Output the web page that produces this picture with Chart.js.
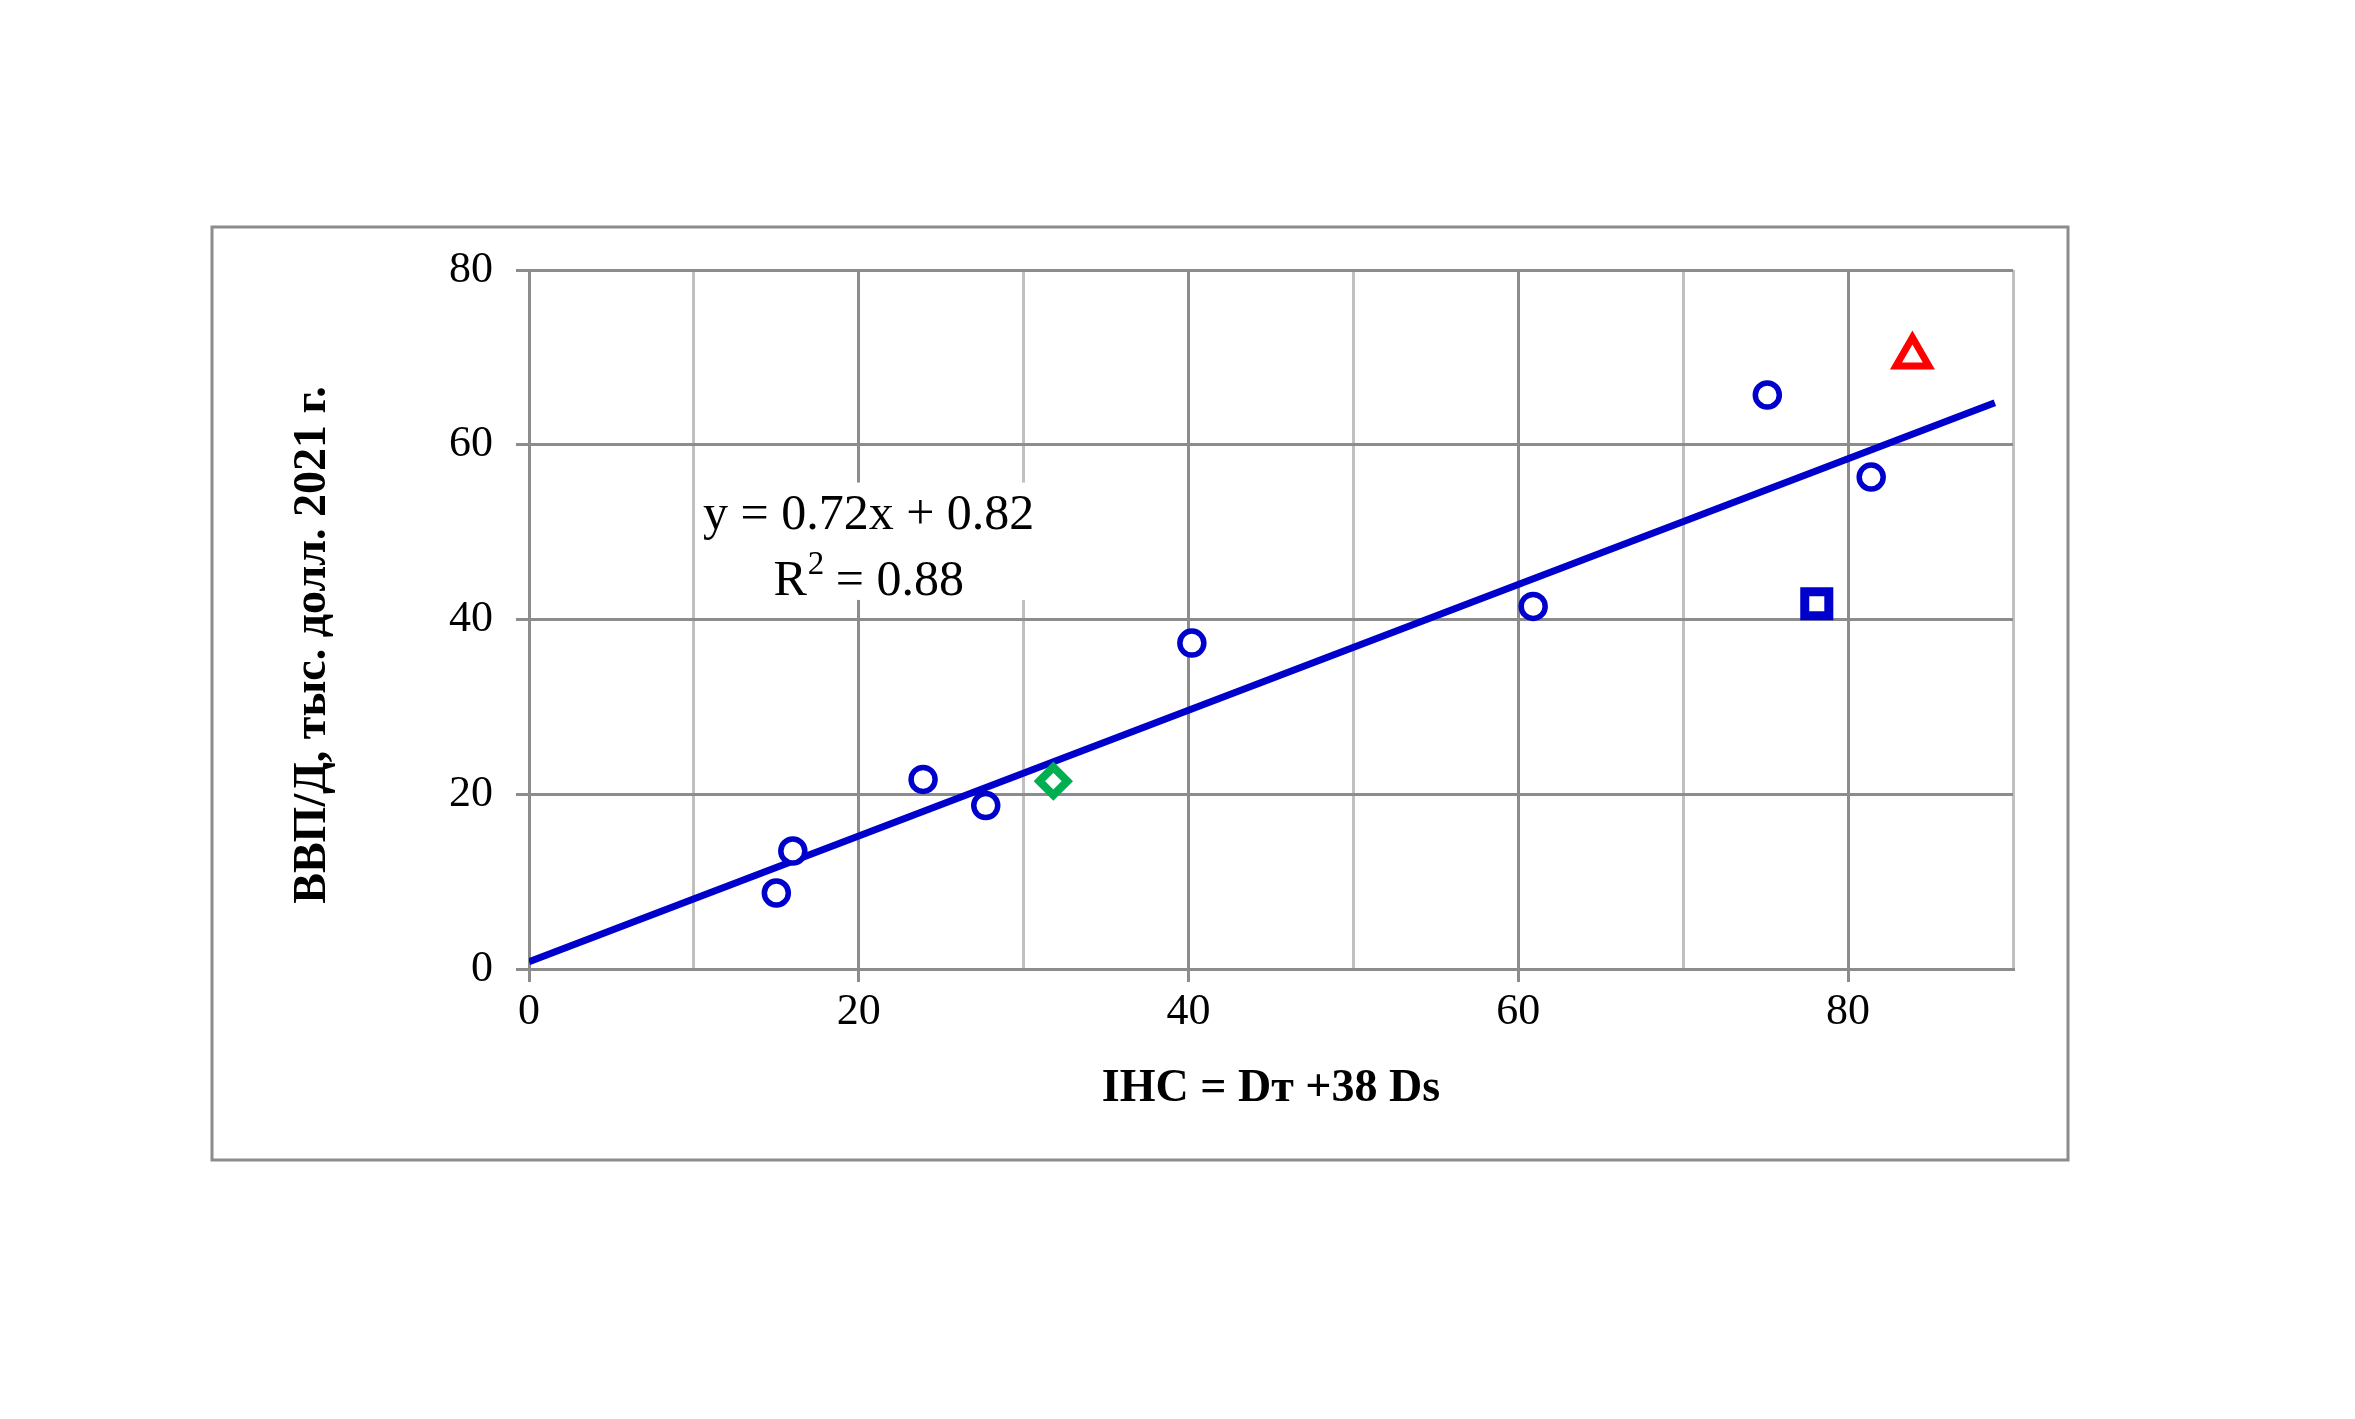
<!DOCTYPE html>
<html>
<head>
<meta charset="utf-8">
<script src="https://cdn.jsdelivr.net/npm/chart.js@4.4.0/dist/chart.umd.min.js"></script>
<style>
  html, body { margin: 0; padding: 0; background: #fff; }
  #wrap { position: relative; width: 2355px; height: 1419px; }
</style>
</head>
<body>
<div id="wrap"><canvas id="ihcChart"></canvas></div>
<script>
// values
const countryX = [15.0, 16.0, 23.9, 27.7, 40.2, 60.9, 75.1, 81.4];
const countryY = [8.7, 13.5, 21.7, 18.7, 37.3, 41.5, 65.7, 56.3];
const squareX = [78.1];
const squareY = [41.8];
const triangleX = [83.9];
const triangleY = [70.1];
const diamondX = [31.8];
const diamondY = [21.5];
// trend line end points
const trendX = [0, 88.9];
const trendY = [0.82, 64.8];

const xTickLabels = [0, 20, 40, 60, 80];
const yTickLabels = [0, 20, 40, 60, 80];

const xTitle = 'IHC = Dт +38 Ds';
const yTitle = 'ВВП/Д, тыс. долл. 2021 г.';
const eqLine1 = 'y = 0.72x + 0.82';
const eqLine2 = ['R', '2', ' = 0.88'];

const FONT = '"Liberation Serif", "Times New Roman", serif';
const darkGrid = '#8c8c8c';
const lightGrid = '#c0c0c0';

function toPoints(xs, ys) {
    return xs.map((x, i) => ({ x: x, y: ys[i] }));
}

//draws the outer frame, the equation label and the y title
const decorPlugin = {
    id: 'decor',
    beforeDraw(chart) {
        const ctx = chart.ctx;
        ctx.save();
        ctx.fillStyle = '#ffffff';
        ctx.fillRect(0, 0, chart.width, chart.height);
        ctx.strokeStyle = darkGrid;
        ctx.lineWidth = 3;
        ctx.strokeRect(212, 227, 1856, 933);
        ctx.restore();
    },
    beforeDatasetsDraw(chart) {
        const ctx = chart.ctx;
        const xs = chart.scales.x;
        const ys = chart.scales.y;
        const cx = xs.getPixelForValue(20.6);
        const y1 = ys.getPixelForValue(51.9);
        const y2 = ys.getPixelForValue(44.3);
        ctx.save();
        ctx.fillStyle = '#ffffff';
        ctx.fillRect(cx - 172, y1 - 33, 344, (y2 + 18) - (y1 - 33));

        ctx.fillStyle = '#000000';
        ctx.textBaseline = 'middle';
        ctx.font = '50px ' + FONT;
        ctx.textAlign = 'center';
        ctx.fillText(eqLine1, cx, y1);

        // R^2 line, superscript drawn by hand
        ctx.textAlign = 'left';
        const wR = ctx.measureText(eqLine2[0]).width;
        const wRest = ctx.measureText(eqLine2[2]).width;
        ctx.font = '33px ' + FONT;
        const wSup = ctx.measureText(eqLine2[1]).width;
        const total = wR + wSup + wRest;
        let x0 = cx - total / 2;
        ctx.font = '50px ' + FONT;
        ctx.fillText(eqLine2[0], x0, y2);
        ctx.font = '33px ' + FONT;
        ctx.fillText(eqLine2[1], x0 + wR + 1, y2 - 17);
        ctx.font = '50px ' + FONT;
        ctx.fillText(eqLine2[2], x0 + wR + wSup, y2);
        ctx.restore();
    },
    afterDraw(chart) {
        const ctx = chart.ctx;
        ctx.save();
        ctx.translate(325, 645);
        ctx.rotate(-Math.PI / 2);
        ctx.font = 'bold 46px ' + FONT;
        ctx.fillStyle = '#000000';
        ctx.textAlign = 'center';
        ctx.textBaseline = 'alphabetic';
        ctx.fillText(yTitle, 0, 0);
        ctx.restore();
    }
};

const ctx = document.getElementById('ihcChart').getContext('2d');
const ihcChart = new Chart(ctx, {
    type: 'scatter',
    data: {
        datasets: [
            {
                type: 'line',
                label: 'trend',
                data: toPoints(trendX, trendY),
                borderColor: '#0000cc',
                borderWidth: 7,
                pointRadius: 0,
                fill: false,
                order: 2
            },
            {
                label: 'countries',
                data: toPoints(countryX, countryY),
                pointStyle: 'circle',
                pointRadius: 12,
                borderWidth: 5.5,
                borderColor: '#0000cc',
                backgroundColor: '#ffffff',
                order: 1
            },
            {
                label: 'square',
                data: toPoints(squareX, squareY),
                pointStyle: 'rect',
                pointRadius: 17,
                borderWidth: 9,
                borderColor: '#0000cc',
                backgroundColor: '#ffffff',
                order: 1
            },
            {
                label: 'triangle',
                data: toPoints(triangleX, triangleY),
                pointStyle: 'triangle',
                pointRadius: 19,
                borderWidth: 7,
                borderColor: '#ff0000',
                backgroundColor: '#ffffff',
                order: 1
            },
            {
                label: 'diamond',
                data: toPoints(diamondX, diamondY),
                pointStyle: 'rectRot',
                pointRadius: 14,
                borderWidth: 8,
                borderColor: '#00b050',
                backgroundColor: '#ffffff',
                order: 1
            }
        ]
    },
    plugins: [decorPlugin],
    options: {
        responsive: true,
        maintainAspectRatio: false,
        animation: false,
        layout: {
            padding: { left: 0, right: 342, top: 270, bottom: 300 }
        },
        plugins: {
            legend: { display: false },
            tooltip: { enabled: false }
        },
        scales: {
            x: {
                type: 'linear',
                min: 0,
                max: 90,
                afterFit: function (scale) { scale.height = 150; },
                ticks: {
                    stepSize: 10,
                    padding: 4,
                    color: '#000000',
                    font: { family: FONT, size: 44 },
                    maxRotation: 0,
                    callback: function (value) {
                        return xTickLabels.includes(value) ? String(value) : '';
                    }
                },
                grid: {
                    lineWidth: 3,
                    tickLength: 13,
                    tickWidth: 3,
                    color: function (c) {
                        return (c.tick && xTickLabels.includes(c.tick.value)) ? darkGrid : lightGrid;
                    },
                    tickColor: function (c) {
                        return (c.tick && xTickLabels.includes(c.tick.value)) ? darkGrid : 'rgba(0,0,0,0)';
                    }
                },
                border: { color: darkGrid, width: 3 },
                title: {
                    display: true,
                    text: xTitle,
                    color: '#000000',
                    font: { family: FONT, size: 46, weight: 'bold' },
                    padding: { top: 0, bottom: 2 }
                }
            },
            y: {
                type: 'linear',
                min: 0,
                max: 80,
                afterFit: function (scale) { scale.width = 529; },
                ticks: {
                    stepSize: 20,
                    padding: 23,
                    color: '#000000',
                    font: { family: FONT, size: 44 },
                    callback: function (value) {
                        return yTickLabels.includes(value) ? String(value) : '';
                    }
                },
                grid: {
                    lineWidth: 3,
                    tickLength: 13,
                    tickWidth: 3,
                    color: darkGrid,
                    tickColor: darkGrid
                },
                border: { color: darkGrid, width: 3 },
                title: { display: false }
            }
        }
    }
});
</script>
</body>
</html>
